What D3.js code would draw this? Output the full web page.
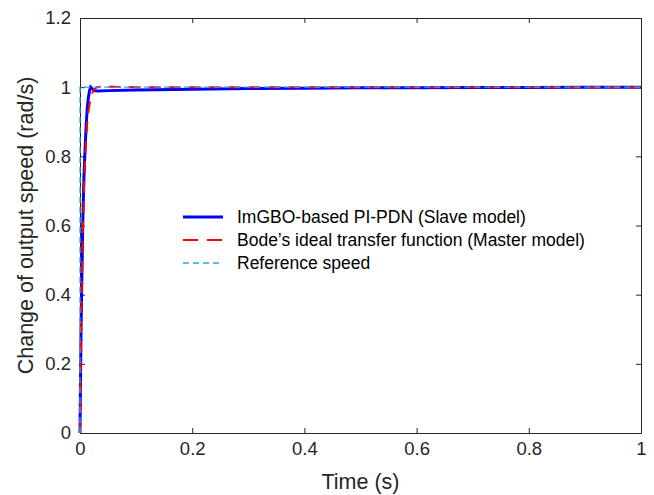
<!DOCTYPE html>
<html><head><meta charset="utf-8">
<script src="https://cdn.jsdelivr.net/npm/d3@7"></script>
<style>body{margin:0;background:#fff}svg{display:block}text{font-family:"Liberation Sans",Arial,sans-serif}</style>
</head><body><svg id="c" width="654" height="495"></svg>
<script>
const xTicks = [0, 0.2, 0.4, 0.6, 0.8, 1];
const yTicks = [0, 0.2, 0.4, 0.6, 0.8, 1, 1.2];
const seriesNames = ["ImGBO-based PI-PDN (Slave model)", "Bode\u2019s ideal transfer function (Master model)", "Reference speed"];
const slaveT = [0, 0.001, 0.002, 0.003, 0.005, 0.007, 0.009, 0.011, 0.013, 0.015, 0.017, 0.019, 0.022, 0.026, 0.032, 0.05, 0.1, 0.2, 0.3, 0.4, 0.5, 0.6, 0.7, 0.8, 0.9, 1.0];
const slaveV = [0, 0.17, 0.32, 0.42, 0.61, 0.74, 0.82, 0.89, 0.94, 0.97, 0.99, 1.0, 0.995, 0.99, 0.989, 0.99, 0.992, 0.994, 0.996, 0.997, 0.998, 0.998, 0.999, 0.999, 1.0, 1.0];
const masterT = [0, 0.001, 0.002, 0.003, 0.005, 0.007, 0.009, 0.011, 0.013, 0.015, 0.018, 0.021, 0.025, 0.03, 0.04, 0.06, 0.1, 1.0];
const masterV = [0, 0.16, 0.3, 0.41, 0.58, 0.7, 0.79, 0.85, 0.9, 0.93, 0.96, 0.98, 0.993, 1.0, 1.002, 1.001, 1.0, 1.0];
const refT = [0, 0, 1];
const refV = [0, 1, 1];

const svg = d3.select("#c");
const L = 80, R = 641, T = 18, B = 433;
const x = d3.scaleLinear().domain([0, 1]).range([L, R]);
const y = d3.scaleLinear().domain([0, 1.2]).range([B, T]);

const g = svg.append("g");
const ax = d3.axisBottom(x).tickValues(xTicks).tickFormat(d3.format("~g")).tickSizeInner(-5).tickSizeOuter(0).tickPadding(9);
const ay = d3.axisLeft(y).tickValues(yTicks).tickFormat(d3.format("~g")).tickSizeInner(-5).tickSizeOuter(0).tickPadding(9);
const axT = d3.axisTop(x).tickValues(xTicks).tickFormat("").tickSizeInner(-5).tickSizeOuter(0);
const ayR = d3.axisRight(y).tickValues(yTicks).tickFormat("").tickSizeInner(-5).tickSizeOuter(0);
function style(sel){
  sel.select(".domain").attr("stroke", "#262626").attr("stroke-width", 1);
  sel.selectAll(".tick line").attr("stroke", "#262626");
  sel.selectAll(".tick text").attr("fill", "#262626").style("font-size", "18.5px").style("font-family", "Liberation Sans, Arial, sans-serif");
}
g.append("g").attr("transform", `translate(0,${B})`).call(ax).call(style);
g.append("g").attr("transform", `translate(${L},0)`).call(ay).call(style);
g.append("g").attr("transform", `translate(0,${T})`).call(axT).call(style);
g.append("g").attr("transform", `translate(${R},0)`).call(ayR).call(style);

const line = d3.line().x(d => x(d[0])).y(d => y(d[1]));
const slave = slaveT.map((t, i) => [t, slaveV[i]]);
const master = masterT.map((t, i) => [t, masterV[i]]);
const ref = refT.map((t, i) => [t, refV[i]]);
const styles = [
  {c: "#0000ff", w: 3, d: null},
  {c: "#ff0000", w: 2, d: "12,8"},
  {c: "#22aaee", w: 1.3, d: "6,4"}
];
[slave, master, ref].forEach((data, i) => {
  g.append("path").datum(data).attr("d", line).attr("fill", "none")
    .attr("stroke", styles[i].c).attr("stroke-width", styles[i].w)
    .attr("stroke-dasharray", styles[i].d);
});

svg.append("text").attr("x", (L + R) / 2).attr("y", 489).attr("text-anchor", "middle")
  .style("font-size", "21.5px").attr("fill", "#262626").text("Time (s)");
svg.append("text").attr("transform", `translate(33,${(T + B) / 2}) rotate(-90)`).attr("text-anchor", "middle")
  .style("font-size", "21.5px").attr("fill", "#262626").text("Change of output speed (rad/s)");

const leg = svg.append("g");
const ly = [217, 240, 263];
seriesNames.forEach((n, i) => {
  leg.append("line").attr("x1", 183).attr("x2", 223).attr("y1", ly[i]).attr("y2", ly[i])
    .attr("stroke", styles[i].c).attr("stroke-width", styles[i].w)
    .attr("stroke-dasharray", i === 1 ? "15,9" : styles[i].d);
  leg.append("text").attr("x", 237).attr("y", ly[i] + 6).style("font-size", "17.5px").attr("fill", "#000").text(n);
});
</script></body></html>
